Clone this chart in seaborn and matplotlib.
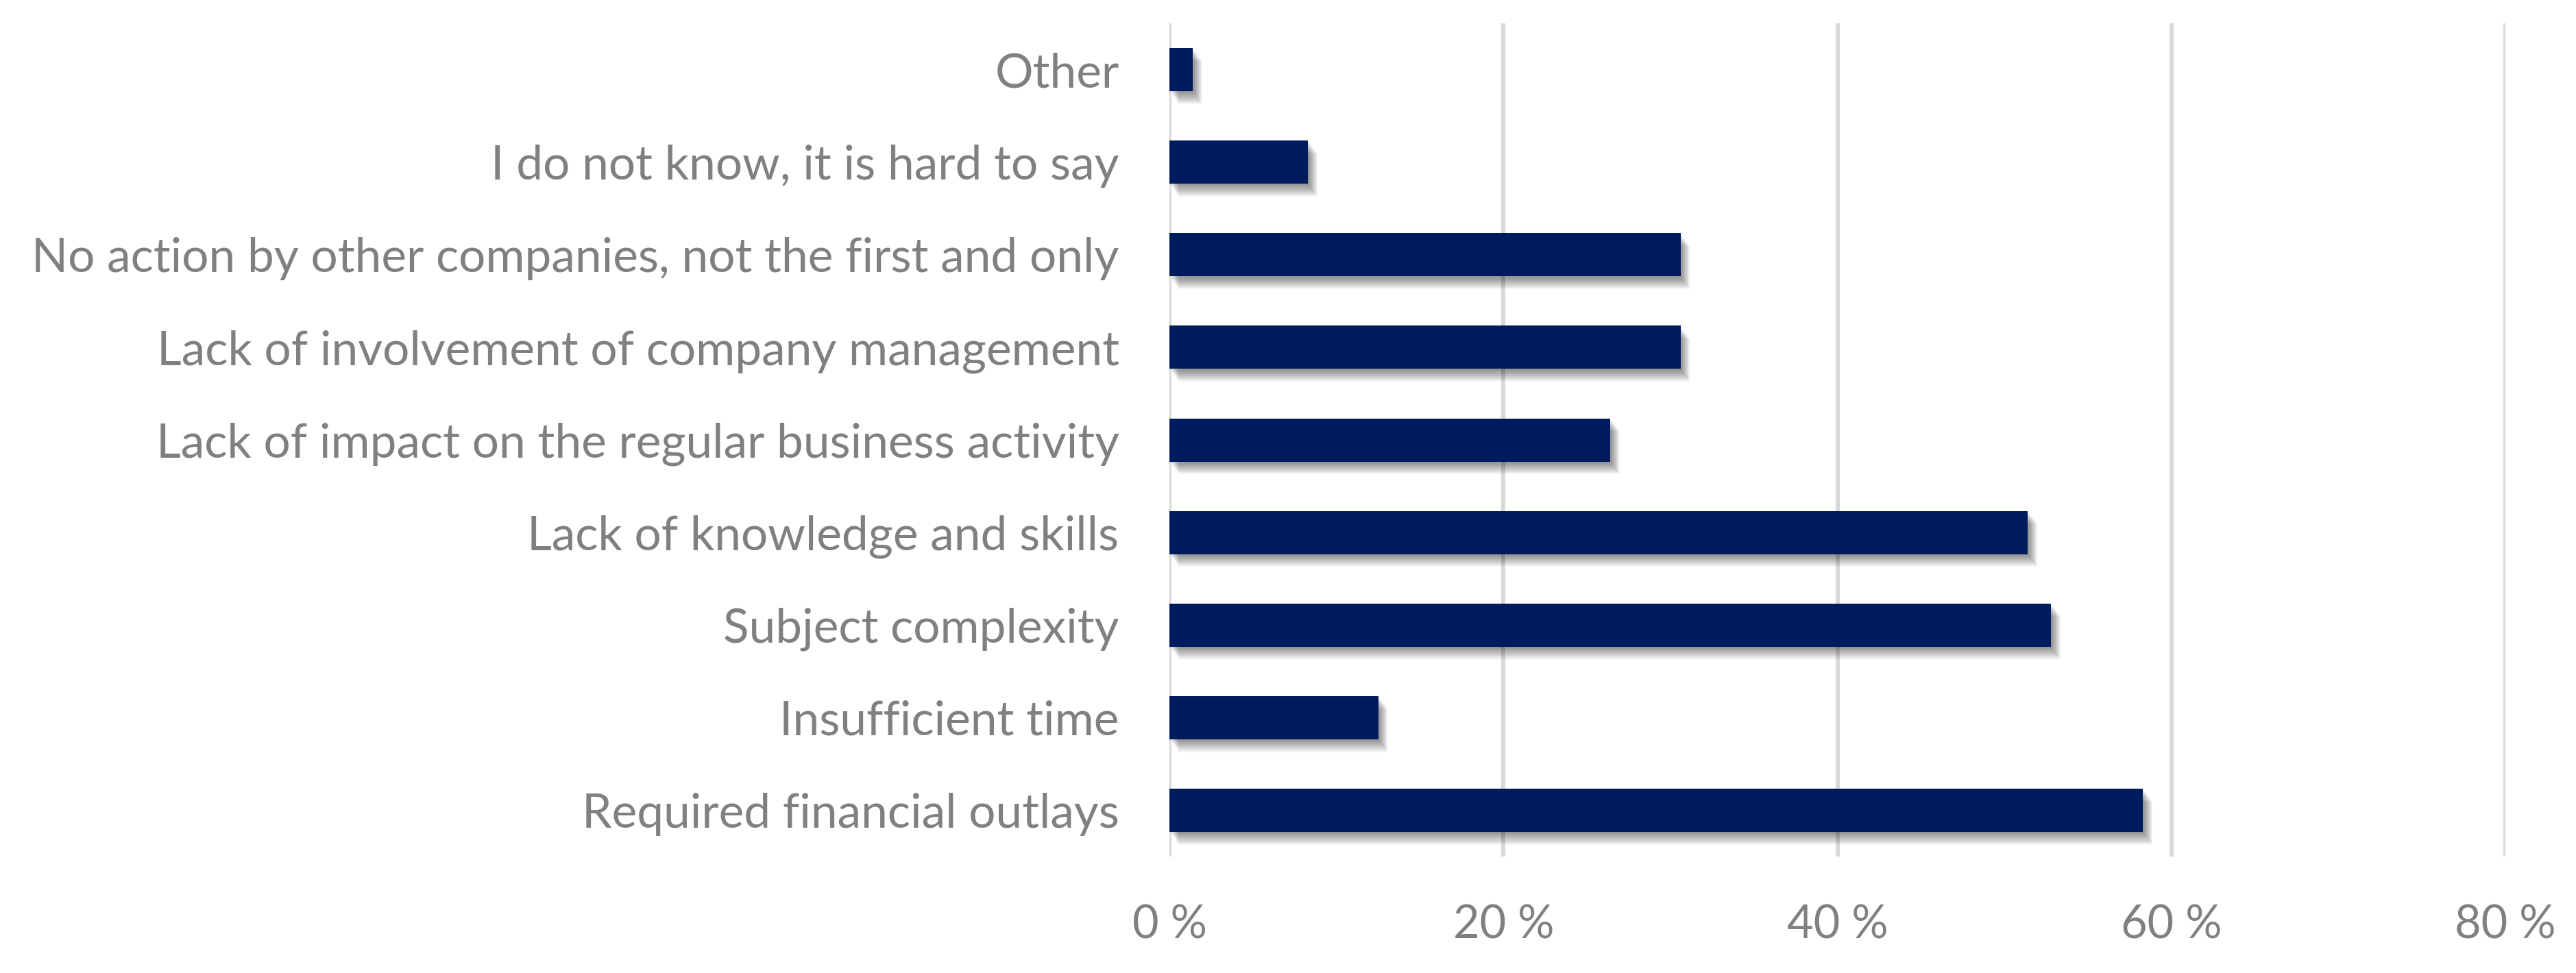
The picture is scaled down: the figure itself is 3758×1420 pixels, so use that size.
import matplotlib
matplotlib.use("Agg")
import matplotlib.pyplot as plt
import matplotlib.patheffects as pe
import pandas as pd
import seaborn as sns

# survey answers, listed top to bottom as in the reference
categories = [
    "Other",
    "I do not know, it is hard to say",
    "No action by other companies, not the first and only",
    "Lack of involvement of company management",
    "Lack of impact on the regular business activity",
    "Lack of knowledge and skills",
    "Subject complexity",
    "Insufficient time",
    "Required financial outlays",
]
shares = [1.4, 8.3, 30.6, 30.6, 26.4, 51.4, 52.8, 12.5, 58.3]
x_ticks = [0, 20, 40, 60, 80]
x_tick_labels = ["0 %", "20 %", "40 %", "60 %", "80 %"]

df = pd.DataFrame({"reason": categories, "share": shares})

sns.set_theme(style="white")
plt.rcParams["font.family"] = ["Lato", "DejaVu Sans"]

text_grey = "#808080"
bar_blue = "#001A5E"

fig = plt.figure(figsize=(37.58, 14.2), dpi=100)
ax = fig.add_axes([0.454, 0.1197, 0.5186, 0.8563])

sns.barplot(data=df, x="share", y="reason", orient="h", color=bar_blue,
            width=0.467, saturation=1, ax=ax, zorder=3)

# soft drop shadow under each bar (stacked offsets as a poor man's blur)
shadow = [pe.SimplePatchShadow(offset=(0.55 * k, -0.75 * k), shadow_rgbFace="black",
                               alpha=0.028) for k in range(1, 19)]
for bar in ax.patches:
    bar.set_linewidth(0)
    bar.set_path_effects(shadow + [pe.Normal()])

ax.set_xlim(0, 80)
ax.set_ylim(len(categories) - 0.5, -0.5)
ax.set_xticks(x_ticks)
ax.set_xticklabels(x_tick_labels)
ax.grid(axis="x", color="#D9D9D9", linewidth=4.3, zorder=0)
ax.set_axisbelow(True)
for s in ax.spines.values():
    s.set_visible(False)

ax.tick_params(axis="y", length=0, pad=53, labelsize=50, labelcolor=text_grey)
ax.tick_params(axis="x", length=0, pad=50, labelsize=48, labelcolor=text_grey)
ax.set_xlabel("")
ax.set_ylabel("")

fig.savefig("out.png", dpi=100, facecolor="white")
